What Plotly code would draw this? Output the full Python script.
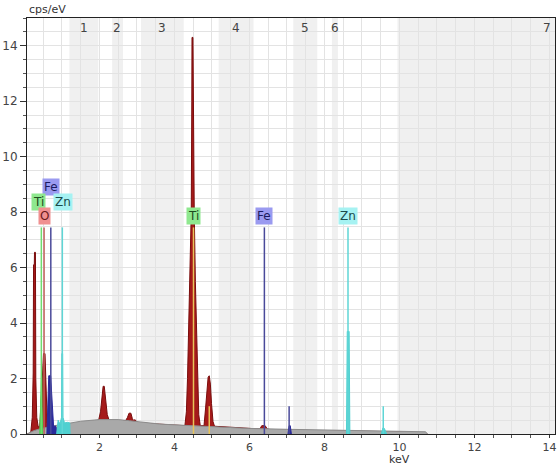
import plotly.graph_objects as go

# ---------------- data ----------------
# measured spectrum (dark red)
spec_keV = [0.07, 0.17, 0.21, 0.235, 0.245, 0.265, 0.27, 0.295, 0.305, 0.33, 0.37, 0.41,
            0.46, 0.49, 0.51, 0.55, 0.58, 0.61, 0.70, 0.9, 1.2, 1.5, 1.98, 2.03, 2.07, 2.10,
            2.13, 2.17, 2.21, 2.26, 2.70, 2.75, 2.79, 2.84, 2.88, 2.92, 2.95, 2.99, 3.05,
            4.28, 4.32, 4.35, 4.38, 4.41, 4.43, 4.45, 4.465, 4.47, 4.495, 4.51, 4.53, 4.56,
            4.59, 4.62, 4.65, 4.69, 4.79, 4.83, 4.87, 4.90, 4.93, 4.96, 4.99, 5.03, 5.07,
            6.28, 6.33, 6.42, 6.48, 6.6, 8.0, 10.0, 10.75]
spec_cps = [0.0, 0.05, 0.6, 2.2, 6.1, 6.1, 6.55, 6.55, 2.0, 0.6, 0.25, 0.3,
            1.5, 2.3, 2.9, 2.9, 1.5, 0.4, 0.2, 0.25, 0.3, 0.4, 0.5, 0.8, 1.4, 1.72,
            1.72, 1.3, 0.7, 0.5, 0.48, 0.6, 0.75, 0.75, 0.55, 0.48, 0.52, 0.45, 0.4,
            0.3, 0.8, 2.0, 3.6, 5.0, 6.2, 8.0, 12.0, 14.3, 14.3, 11.0, 8.0, 5.5,
            3.5, 1.8, 0.7, 0.3, 0.3, 0.9, 1.7, 2.05, 2.1, 1.8, 1.1, 0.45, 0.28,
            0.18, 0.3, 0.3, 0.18, 0.15, 0.12, 0.08, 0.0]

# background continuum (grey)
bg_keV = [0.07, 0.15, 0.25, 0.4, 0.6, 0.8, 1.0, 1.2, 1.5, 2.0, 2.5, 2.8, 3.2, 3.6,
          4.0, 4.5, 5.0, 5.5, 6.0, 7.0, 8.0, 9.0, 10.0, 10.7, 10.75]
bg_cps = [0.0, 0.05, 0.12, 0.18, 0.25, 0.3, 0.34, 0.38, 0.46, 0.52, 0.52, 0.48, 0.42, 0.36,
          0.33, 0.3, 0.26, 0.22, 0.2, 0.17, 0.14, 0.12, 0.1, 0.08, 0.0]

# element-coloured peak fills
ti_fill_keV = [0.41, 0.43, 0.44, 0.46, 0.47, 0.49]
ti_fill_cps = [0.0, 1.2, 2.4, 2.4, 1.0, 0.0]
fe_fill_keV = [0.60, 0.63, 0.65, 0.70, 0.73, 0.76, 0.78, 0.82, 0.86, 0.88]
fe_fill_cps = [0.0, 1.0, 2.1, 2.1, 1.2, 0.3, 0.25, 0.3, 0.2, 0.0]
fe_kb_keV = [7.03, 7.06, 7.09, 7.12]
fe_kb_cps = [0.0, 0.3, 0.3, 0.0]
zn_fill_keV = [0.86, 0.90, 0.95, 0.99, 1.00, 1.02, 1.03, 1.07, 1.15, 1.21, 1.22]
zn_fill_cps = [0.0, 0.5, 0.35, 0.6, 2.9, 2.9, 0.6, 0.4, 0.42, 0.4, 0.0]
zn_ka_keV = [8.59, 8.61, 8.66, 8.68]
zn_ka_cps = [0.0, 3.7, 3.7, 0.0]
zn_kb_keV = [9.52, 9.56, 9.60, 9.66]
zn_kb_cps = [0.0, 0.22, 0.2, 0.0]

# element marker lines
line_element = ["Ti", "Ti", "Ti", "O", "Fe", "Fe", "Fe", "Zn", "Zn", "Zn"]
line_keV = [0.452, 4.51, 4.93, 0.525, 0.705, 6.40, 7.06, 1.012, 8.63, 9.57]
line_height = [7.45, 7.45, 1.0, 7.45, 7.45, 7.45, 1.0, 7.45, 7.45, 1.0]

# element labels
label_text = ["Fe", "Ti", "Zn", "O", "Ti", "Fe", "Zn"]
label_keV = [0.70, 0.38, 1.02, 0.54, 4.51, 6.40, 8.63]
label_cps = [8.9, 8.35, 8.35, 7.85, 7.85, 7.85, 7.85]

# shaded regions
band_start = [1.20, 2.34, 3.11, 5.18, 7.17, 8.20, 9.95]
band_end = [1.97, 2.63, 4.25, 6.11, 7.81, 8.36, 14.2]
band_label = ["1", "2", "3", "4", "5", "6", "7"]
band_label_keV = [1.58, 2.48, 3.68, 5.65, 7.49, 8.28, 13.93]

x_ticks = [2, 4, 6, 8, 10, 12, 14]
y_ticks = [0, 2, 4, 6, 8, 10, 12, 14]

# ---------------- styles ----------------
line_col = {"Ti": "#6fdc6f", "O": "#c0605a", "Fe": "#4a4a9a", "Zn": "#5fd6d6"}
lab_bg = {"Ti": "#8fe88f", "O": "#f09090", "Fe": "#9a9af0", "Zn": "#a6f2f2"}
lab_fg = {"Ti": "#1e4a1e", "O": "#6a1a1a", "Fe": "#1a1a60", "Zn": "#1a4a4a"}
FONT = "DejaVu Sans"

fig = go.Figure()
fig.add_trace(go.Scatter(x=spec_keV, y=spec_cps, mode="lines", fill="tozeroy",
                         line=dict(color="#7a0c0c", width=1), fillcolor="#a51a1a",
                         hoverinfo="skip"))
fig.add_trace(go.Scatter(x=bg_keV, y=bg_cps, mode="lines", fill="tozeroy",
                         line=dict(color="#8c8c8c", width=1), fillcolor="#a9a9a9",
                         hoverinfo="skip"))
for xs, ys, col in [(ti_fill_keV, ti_fill_cps, "#4fd04f"),
                    (fe_fill_keV, fe_fill_cps, "#2a2a9a"),
                    (fe_kb_keV, fe_kb_cps, "#2a2a9a"),
                    (zn_fill_keV, zn_fill_cps, "#4fd0d0"),
                    (zn_ka_keV, zn_ka_cps, "#4fd0d0"),
                    (zn_kb_keV, zn_kb_cps, "#4fd0d0")]:
    fig.add_trace(go.Scatter(x=xs, y=ys, mode="lines", fill="tozeroy",
                             line=dict(color=col, width=1), fillcolor=col,
                             hoverinfo="skip"))

for el, e, h in zip(line_element, line_keV, line_height):
    col = line_col[el]
    if el == "Ti" and e > 4:
        col = "#e8c45a"
    fig.add_trace(go.Scatter(x=[e, e], y=[0, h], mode="lines",
                             line=dict(color=col, width=1.5), hoverinfo="skip"))

shapes = []
for s, e in zip(band_start, band_end):
    shapes.append(dict(type="rect", xref="x", yref="paper", x0=s, x1=e, y0=0, y1=1,
                       fillcolor="#f0f0f0", line=dict(width=0), layer="between"))

annotations = []
for t, x in zip(band_label, band_label_keV):
    annotations.append(dict(x=x, y=1, xref="x", yref="paper", text=t, showarrow=False,
                            yanchor="top", yshift=-1,
                            font=dict(family=FONT, size=12, color="#444")))
for t, x, y in zip(label_text, label_keV, label_cps):
    annotations.append(dict(x=x, y=y, xref="x", yref="y", text=t, showarrow=False,
                            bgcolor=lab_bg[t], borderpad=1,
                            font=dict(family=FONT, size=12, color=lab_fg[t])))
annotations.append(dict(x=0, y=1, xref="paper", yref="paper", text="cps/eV",
                        showarrow=False, xanchor="left", yanchor="bottom", xshift=0,
                        font=dict(family=FONT, size=11, color="#333")))
annotations.append(dict(x=10, y=0, xref="x", yref="paper", text="keV",
                        showarrow=False, xanchor="center", yanchor="top", yshift=-18,
                        borderpad=0,
                        font=dict(family=FONT, size=11, color="#333")))

fig.update_layout(
    width=558, height=468,
    margin=dict(l=25, r=2, t=18, b=34),
    plot_bgcolor="white", paper_bgcolor="white",
    showlegend=False,
    shapes=shapes, annotations=annotations,
    xaxis=dict(range=[0.07, 14.15], tickvals=x_ticks, ticks="outside", ticklen=3,
               tickcolor="#333", showline=True, linecolor="#222", linewidth=1, mirror=True,
               showgrid=True, gridcolor="#e3e3e3", zeroline=False, ticklabelstandoff=0,
               minor=dict(tick0=0, dtick=0.5, ticks="outside", ticklen=3, tickcolor="#555",
                          showgrid=True, gridcolor="#e3e3e3"),
               tickfont=dict(family=FONT, size=11, color="#444")),
    yaxis=dict(range=[0, 15], tickvals=y_ticks, ticks="outside", ticklen=6,
               tickcolor="#333", showline=True, linecolor="#222", linewidth=1, mirror=True,
               showgrid=True, gridcolor="#e3e3e3", zeroline=False,
               minor=dict(tick0=0, dtick=0.5, ticks="outside", ticklen=3, tickcolor="#555",
                          showgrid=True, gridcolor="#e3e3e3"),
               tickfont=dict(family=FONT, size=12, color="#444")),
)

fig.write_html("out.html")
